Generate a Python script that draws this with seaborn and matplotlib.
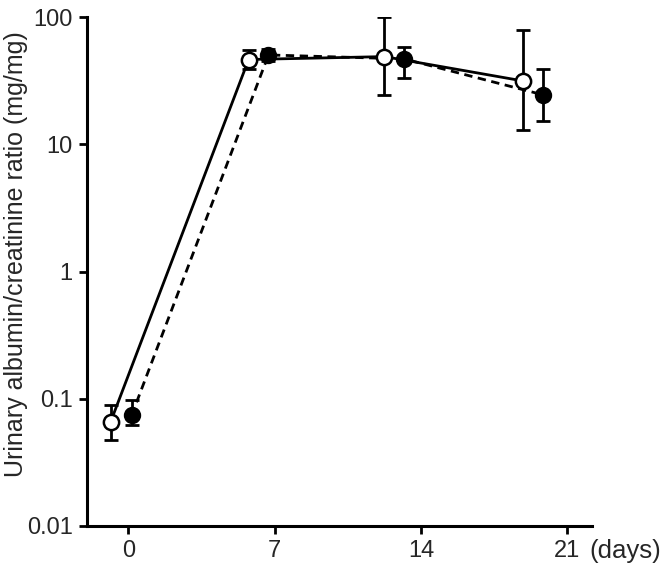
import numpy as np
import pandas as pd
import matplotlib
matplotlib.use('Agg')
import matplotlib.pyplot as plt
import seaborn as sns

# data (days, ratio mg/mg, error bar ends)
open_day = [-0.85, 5.75, 12.25, 18.9]
open_val = [0.066, 46.5, 49.0, 31.5]
open_hi = [0.089, 55.0, 100.0, 80.0]
open_lo = [0.047, 39.0, 24.5, 13.0]

filled_day = [0.15, 6.7, 13.2, 19.85]
filled_val = [0.074, 50.5, 47.0, 24.5]
filled_hi = [0.098, 56.0, 58.0, 39.5]
filled_lo = [0.062, 45.5, 33.0, 15.3]

xticks = [0, 7, 14, 21]
yticks = [0.01, 0.1, 1, 10, 100]
ytick_labels = ['0.01', '0.1', '1', '10', '100']

sns.set_style('ticks')
plt.rcParams['font.family'] = ['Liberation Sans', 'DejaVu Sans']

df_open = pd.DataFrame({'day': open_day, 'val': open_val})
df_filled = pd.DataFrame({'day': filled_day, 'val': filled_val})

fig = plt.figure(figsize=(6.67, 5.74), dpi=100)
ax = fig.add_axes([0.130, 0.084, 0.758, 0.886])

# error bars first, then lines + markers on top
for d, v, hi, lo in [(open_day, open_val, open_hi, open_lo),
                     (filled_day, filled_val, filled_hi, filled_lo)]:
    v = np.array(v)
    yerr = [v - np.array(lo), np.array(hi) - v]
    ax.errorbar(d, v, yerr=yerr, fmt='none', ecolor='black',
                elinewidth=2, capsize=5, capthick=2, zorder=2)

sns.lineplot(data=df_filled, x='day', y='val', ax=ax, color='black',
             linestyle=(0, (3, 2)), linewidth=2, marker='o', markersize=11,
             markerfacecolor='black', markeredgecolor='black',
             markeredgewidth=1.5, zorder=3)
sns.lineplot(data=df_open, x='day', y='val', ax=ax, color='black',
             linestyle='-', linewidth=2, marker='o', markersize=11,
             markerfacecolor='white', markeredgecolor='black',
             markeredgewidth=1.8, zorder=4)

ax.set_yscale('log')
ax.set_ylim(0.01, 100)
ax.set_xlim(-2, 22.2)
ax.set_yticks(yticks)
ax.set_yticklabels(ytick_labels)
ax.minorticks_off()
ax.set_xticks(xticks)
ax.set_xticklabels([str(t) for t in xticks])
ax.tick_params(axis='both', labelsize=17, width=2, length=6, color='black', pad=4)
ax.set_xlabel('')
ax.set_ylabel('Urinary albumin/creatinine ratio (mg/mg)', fontsize=18)
ax.yaxis.set_label_coords(-0.117, 0.534)
for s in ['left', 'bottom']:
    ax.spines[s].set_linewidth(2.2)
    ax.spines[s].set_color('black')
sns.despine(ax=ax)

fig.text(0.884, 0.040, '(days)', fontsize=18.5, ha='left', va='center')

fig.savefig('out.png', dpi=100)
